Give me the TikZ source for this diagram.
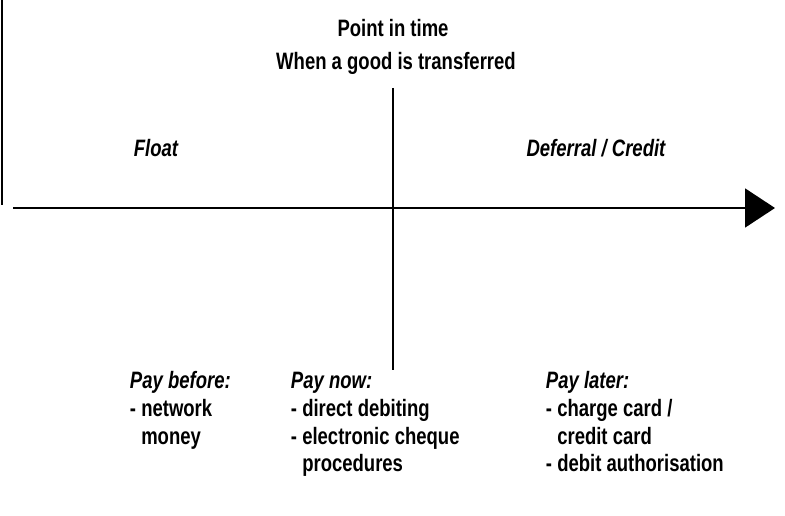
\documentclass[tikz,border=0pt]{standalone}
\usepackage{fontspec}
\setmainfont[FakeStretch=0.78]{Liberation Sans}
\usetikzlibrary{arrows.meta}

\begin{document}
\begin{tikzpicture}[x=0.02cm,y=-0.02cm,line width=1.1pt]

                \tikzset{lbl/.style = {inner sep=0pt,font=\fontsize{13.5}{15.9}\selectfont\bfseries}}
                \tikzset{col/.style = {lbl,align=left,anchor=north west,font=\fontsize{13.5}{15.9}\selectfont\bfseries\itshape}}
                \tikzset{axis/.style = {-{Triangle[length=0.6cm,width=0.78cm]}}}
                \useasboundingbox (0,0) rectangle (785,516);

                \coordinate (frametop) at (2,0);
                \coordinate (framebot) at (2,205);
                \coordinate (axstart) at (13,208);
                \coordinate (axend) at (775,208);
                \coordinate (ttop) at (393,88);
                \coordinate (tbot) at (393,370);

                \node[lbl,anchor=base] (point) at (393,37) {Point in time};
                \node[lbl,anchor=base] (when) at (396,70) {When a good is transferred};
                \node[lbl,anchor=base,font=\fontsize{13.5}{15.9}\selectfont\bfseries\itshape] (float) at (156,157) {Float};
                \node[lbl,anchor=base,font=\fontsize{13.5}{15.9}\selectfont\bfseries\itshape] (credit) at (596,157) {Deferral / Credit};

                \node[col] (before) at (129,370) {\vphantom{Pbf}Pay before:\\\upshape - network\\\upshape\phantom{- }money};
                \node[col] (now) at (290,370) {\vphantom{Pbf}Pay now:\\\upshape - direct debiting\\\upshape - electronic cheque\\\upshape\phantom{- }procedures};
                \node[col] (later) at (545,370) {\vphantom{Pbf}Pay later:\\\upshape - charge card /\\\upshape\phantom{- }credit card\\\upshape - debit authorisation};

                \draw (frametop) to (framebot);
                \draw[axis] (axstart) to (axend);
                \draw (ttop) to (tbot);

            \end{tikzpicture}
\end{document}
